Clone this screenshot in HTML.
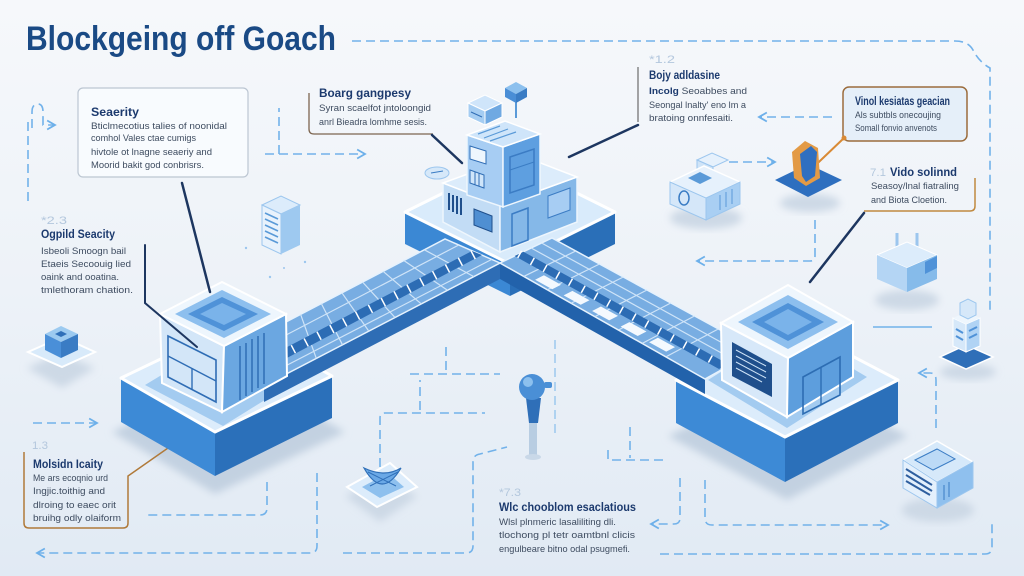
<!DOCTYPE html>
<html><head><meta charset="utf-8"><style>
html,body{margin:0;padding:0;background:#f3f6fa;}
svg{display:block;}
.d{fill:none;stroke:#72b2ea;stroke-width:1.6;stroke-dasharray:9 5;}
.s{fill:none;stroke:#72b2ea;stroke-width:1.6;}
.tt{font-family:"Liberation Sans",sans-serif;font-weight:bold;font-size:12px;fill:#1c3a6e;}
.bb{font-family:"Liberation Sans",sans-serif;font-size:9.5px;fill:#3e4c60;}
.nn{font-family:"Liberation Sans",sans-serif;font-size:11px;fill:#b3c7dd;}
</style></head><body>
<svg width="1024" height="576" viewBox="0 0 1024 576" xmlns="http://www.w3.org/2000/svg">
<defs>
<linearGradient id="bg" x1="0" y1="0" x2="0" y2="1"><stop offset="0" stop-color="#f6f8fb"/><stop offset="0.5" stop-color="#edf2f8"/><stop offset="1" stop-color="#e1eaf4"/></linearGradient>
<filter id="bl" x="-20%" y="-20%" width="140%" height="140%"><feGaussianBlur stdDeviation="4"/></filter>
<marker id="ar" viewBox="0 0 10 10" refX="8" refY="5" markerWidth="7" markerHeight="7" orient="auto"><path d="M1,1 L8,5 L1,9" fill="none" stroke="#6db0ea" stroke-width="1.6"/></marker>
</defs>
<rect width="1024" height="576" fill="url(#bg)"/>

<!-- Title -->
<text x="26" y="50" font-family="Liberation Sans, sans-serif" font-size="34" font-weight="bold" fill="#1a4a85" textLength="310" lengthAdjust="spacingAndGlyphs">Blockgeing off Goach</text>

<!-- dashed connectors -->
<path class="d" d="M352,41 H955 Q968,41 973,50 Q979,62 990,68 V312"/>
<path class="d" d="M28,122 V205"/>
<path class="d" d="M32,128 V112 Q32,104 38,104 Q43,104 43,112 V125 H55" marker-end="url(#ar)"/>
<path class="d" d="M279,154 V108"/>
<path class="d" d="M265,154 H365" marker-end="url(#ar)"/>
<path class="d" d="M832,117 H759" marker-end="url(#ar)"/>
<path class="d" d="M729,162 H775" marker-end="url(#ar)"/>
<path class="d" d="M815,220 V256 Q815,261 810,261 H697" marker-end="url(#ar)"/>
<path class="s" d="M873,327 H932"/>
<path class="d" d="M936,428 V380 Q936,373 930,373 H919" marker-end="url(#ar)"/>
<path class="d" d="M33,423 H97" marker-end="url(#ar)"/>
<path class="d" d="M317,473 V546 Q317,553 310,553 H37" marker-end="url(#ar)"/>
<path class="d" d="M267,482 V508 Q267,515 260,515 H147"/>
<path class="d" d="M380,467 V418 Q380,413 385,413 H485"/>
<path class="d" d="M420,410 V380"/>
<path class="d" d="M410,374 H500"/>
<path class="d" d="M446,347 V374"/>
<path class="d" d="M555,340 V437" opacity="0.6"/>
<path class="d" d="M343,553 H466 Q473,553 473,546 V462 Q473,455 480,454 L507,447"/>
<path class="d" d="M630,427 V458"/>
<path class="d" d="M608,450 V460 H667"/>
<path class="d" d="M680,478 V518 Q680,524 674,524 H651" marker-end="url(#ar)"/>
<path class="d" d="M705,480 V518 Q705,525 712,525 H888" marker-end="url(#ar)"/>
<path class="d" d="M660,554 H985 Q992,554 992,547 V523"/>

<!-- shadows -->
<polygon points="112,432 215,494 345,432 240,372" fill="#c3d1e1" filter="url(#bl)"/>
<polygon points="668,436 787,500 908,436 790,378" fill="#c3d1e1" filter="url(#bl)"/>
<polygon points="27,368 60,353 95,368 62,388" fill="#cdd9e6" filter="url(#bl)"/>
<polygon points="345,496 382,478 418,496 380,522" fill="#cdd9e6" filter="url(#bl)"/>
<ellipse cx="706" cy="218" rx="36" ry="11" fill="#cdd9e6" filter="url(#bl)"/>
<ellipse cx="810" cy="203" rx="30" ry="9" fill="#cdd9e6" filter="url(#bl)"/>
<ellipse cx="907" cy="300" rx="32" ry="10" fill="#cdd9e6" filter="url(#bl)"/>
<ellipse cx="968" cy="372" rx="28" ry="8" fill="#cdd9e6" filter="url(#bl)"/>
<ellipse cx="938" cy="510" rx="36" ry="12" fill="#cdd9e6" filter="url(#bl)"/>

<!-- Security box -->
<rect x="78" y="88" width="170" height="89" rx="5" fill="#f8fbfe" stroke="#bcc6d2" stroke-width="1.2"/>
<text class="tt" x="91" y="116" textLength="48" lengthAdjust="spacingAndGlyphs">Seaerity</text>
<text class="bb" x="91" y="129" textLength="136" lengthAdjust="spacingAndGlyphs">Bticlmecotius talies of noonidal</text>
<text class="bb" x="91" y="141" textLength="105" lengthAdjust="spacingAndGlyphs">comhol Vales ctae cumigs</text>
<text class="bb" x="91" y="155" textLength="121" lengthAdjust="spacingAndGlyphs">hivtole ot lnagne seaeriy and</text>
<text class="bb" x="91" y="168" textLength="113" lengthAdjust="spacingAndGlyphs">Moorid bakit god conbrisrs.</text>

<!-- Boarg -->
<path d="M309,93 V129 Q309,134 314,134 H433" fill="none" stroke="#7d6550" stroke-width="1.3"/>
<text class="tt" x="319" y="97" textLength="92" lengthAdjust="spacingAndGlyphs">Boarg gangpesy</text>
<text class="bb" x="319" y="111" textLength="112" lengthAdjust="spacingAndGlyphs">Syran scaelfot jntoloongid</text>
<text class="bb" x="319" y="125" textLength="108" lengthAdjust="spacingAndGlyphs">anrl Bieadra lomhme sesis.</text>

<!-- Bojy -->
<text class="nn" x="649" y="63" textLength="26" lengthAdjust="spacingAndGlyphs">*1.2</text>
<line x1="638" y1="67" x2="638" y2="122" stroke="#6b6b6b" stroke-width="1.2"/>
<text class="tt" x="649" y="79" textLength="71" lengthAdjust="spacingAndGlyphs">Bojy adldasine</text>
<text class="bb" x="649" y="94" textLength="98" lengthAdjust="spacingAndGlyphs"><tspan font-weight="bold" fill="#1c3a6e">Incolg</tspan> Seoabbes and</text>
<text class="bb" x="649" y="108" textLength="97" lengthAdjust="spacingAndGlyphs">Seongal lnalty' eno lm a</text>
<text class="bb" x="649" y="121" textLength="84" lengthAdjust="spacingAndGlyphs">bratoing onnfesaiti.</text>

<!-- Vinol -->
<rect x="843" y="87" width="124" height="54" rx="6" fill="#e5eff9" stroke="#9b6c3c" stroke-width="1.5"/>
<text class="tt" x="855" y="105" textLength="95" lengthAdjust="spacingAndGlyphs">Vinol kesiatas geacian</text>
<text class="bb" x="855" y="118" textLength="86" lengthAdjust="spacingAndGlyphs">Als subtbls onecoujing</text>
<text class="bb" x="855" y="131" textLength="82" lengthAdjust="spacingAndGlyphs">Somall fonvio anvenots</text>
<line x1="844" y1="138" x2="800" y2="180" stroke="#d98a35" stroke-width="2"/>
<circle cx="844" cy="138" r="2.5" fill="#d98a35"/>

<!-- Vido -->
<text class="nn" x="870" y="176" textLength="16" lengthAdjust="spacingAndGlyphs">7.1</text>
<text class="tt" x="890" y="176" textLength="67" lengthAdjust="spacingAndGlyphs">Vido solinnd</text>
<text class="bb" x="871" y="189" textLength="88" lengthAdjust="spacingAndGlyphs">Seasoy/lnal fiatraling</text>
<text class="bb" x="871" y="203" textLength="76" lengthAdjust="spacingAndGlyphs">and Biota Cloetion.</text>
<path d="M975,178 V206 Q975,211 970,211 H864" fill="none" stroke="#c08a40" stroke-width="1.5"/>

<!-- Ogpild -->
<text class="nn" x="41" y="224" textLength="26" lengthAdjust="spacingAndGlyphs">*2.3</text>
<text class="tt" x="41" y="238" textLength="74" lengthAdjust="spacingAndGlyphs">Ogpild Seacity</text>
<text class="bb" x="41" y="254" textLength="85" lengthAdjust="spacingAndGlyphs">Isbeoli Smoogn bail</text>
<text class="bb" x="41" y="267" textLength="90" lengthAdjust="spacingAndGlyphs">Etaeis Secoouig lied</text>
<text class="bb" x="41" y="280" textLength="78" lengthAdjust="spacingAndGlyphs">oaink and ooatina.</text>
<text class="bb" x="41" y="293" textLength="92" lengthAdjust="spacingAndGlyphs">tmlethoram chation.</text>

<!-- Molsidn -->
<text class="nn" x="32" y="449" textLength="16" lengthAdjust="spacingAndGlyphs">1.3</text>
<text class="tt" x="33" y="468" textLength="70" lengthAdjust="spacingAndGlyphs">Molsidn Icaity</text>
<text class="bb" x="33" y="481" textLength="75" lengthAdjust="spacingAndGlyphs">Me ars ecoqnio urd</text>
<text class="bb" x="33" y="494" textLength="72" lengthAdjust="spacingAndGlyphs">Ingjic.toithig and</text>
<text class="bb" x="33" y="508" textLength="83" lengthAdjust="spacingAndGlyphs">dlroing to eaec orit</text>
<text class="bb" x="33" y="521" textLength="88" lengthAdjust="spacingAndGlyphs">bruihg odly olaiform</text>
<path d="M24,452 V523 Q24,528 29,528 H123 Q128,528 128,523 V476 L198,427" fill="none" stroke="#b07a3a" stroke-width="1.5"/>

<!-- Wlc -->
<text class="nn" x="499" y="496" textLength="22" lengthAdjust="spacingAndGlyphs">*7.3</text>
<text class="tt" x="499" y="511" textLength="137" lengthAdjust="spacingAndGlyphs">Wlc chooblom esaclatious</text>
<text class="bb" x="499" y="525" textLength="117" lengthAdjust="spacingAndGlyphs">Wlsl plnmeric lasaliliting dli.</text>
<text class="bb" x="499" y="538" textLength="136" lengthAdjust="spacingAndGlyphs">tlochong pl tetr oamtbnl clicis</text>
<text class="bb" x="499" y="552" textLength="131" lengthAdjust="spacingAndGlyphs">engulbeare bitno odal psugmefi.</text>

<!-- small left cube -->
<polygon points="28,352 62,337 95,352 62,367" fill="#d8eafa" stroke="#fff" stroke-width="2"/>
<polygon points="45,334 61,326 78,334 61,342" fill="#9ccaf0"/>
<polygon points="45,334 61,342 61,358 45,350" fill="#4a8fd8"/>
<polygon points="61,342 78,334 78,350 61,358" fill="#3a7cc4"/>
<polygon points="55,334 61,331 67,334 61,337" fill="#2f6fb8"/>

<!-- server rack -->
<polygon points="262,205 281,196 300,205 281,214" fill="#dcecfb" stroke="#9cc6ee"/>
<polygon points="262,205 281,214 281,254 262,245" fill="#e8f2fc" stroke="#9cc6ee"/>
<polygon points="281,214 300,205 300,245 281,254" fill="#9ec9f0"/>
<g stroke="#5a9ad8" stroke-width="1.6">
<line x1="265" y1="213" x2="278" y2="219"/><line x1="265" y1="219" x2="278" y2="225"/><line x1="265" y1="225" x2="278" y2="231"/><line x1="265" y1="231" x2="278" y2="237"/><line x1="265" y1="237" x2="278" y2="243"/>
</g>
<g fill="#9cc6ee"><circle cx="246" cy="248" r="1.2"/><circle cx="305" cy="262" r="1.2"/><circle cx="270" cy="277" r="1.2"/><circle cx="284" cy="268" r="1"/></g>

<!-- left platform -->
<polygon points="121,378 215,432 215,476 121,422" fill="#3d8ad6"/>
<polygon points="215,432 332,376 332,418 215,476" fill="#2b70ba"/>
<polygon points="121,378 238,322 332,376 215,432" fill="#dcecfb" stroke="#fff" stroke-width="3" stroke-linejoin="round"/>
<polygon points="145,385 223,338 302,377 223,426" fill="#a3cbf0"/>

<!-- right platform -->
<polygon points="676,380 785,437 785,482 676,423" fill="#3d8ad6"/>
<polygon points="785,437 898,380 898,423 785,482" fill="#2b70ba"/>
<polygon points="676,380 789,323 898,380 785,437" fill="#dcecfb" stroke="#fff" stroke-width="3" stroke-linejoin="round"/>
<polygon points="708,380 788,330 867,377 787,428" fill="#a3cbf0"/>

<!-- central platform -->
<polygon points="405,212 510,264 510,296 405,244" fill="#3b88d4"/>
<polygon points="510,264 615,212 615,244 510,296" fill="#2a6fb8"/>
<polygon points="405,212 510,160 615,212 510,264" fill="#d9ebfb" stroke="#fff" stroke-width="3" stroke-linejoin="round"/>

<!-- roads: sides -->
<polygon points="264,386 500,263 500,279 264,402" fill="#2e6db5"/>
<polygon points="500,263 705,379 705,394 500,279" fill="#2262ab"/>
<!-- left road top -->
<polygon points="263,334 445,239 500,263 269,383" fill="#78ade2" stroke="#e6f2fd" stroke-width="1.5"/>
<g stroke="#cfe4f8" stroke-width="1.2">
<line x1="300.6" y1="314.3" x2="316.3" y2="358.4"/><line x1="321.3" y1="303.5" x2="342.5" y2="344.8"/><line x1="341.9" y1="292.8" x2="368.8" y2="331.1"/><line x1="362.5" y1="282" x2="395" y2="317.5"/><line x1="383.1" y1="271.3" x2="421.3" y2="303.9"/><line x1="403.8" y1="260.5" x2="447.5" y2="290.3"/><line x1="424.4" y1="249.8" x2="473.8" y2="276.6"/>
<line x1="265" y1="346" x2="458.75" y2="245"/><line x1="268" y1="375" x2="491.75" y2="259.4"/>
</g>
<polygon points="266,358 472,251 482,255 268,368" fill="#2c6cb4"/>
<line x1="267" y1="363" x2="477" y2="253" stroke="#fff" stroke-width="9" stroke-dasharray="1.5 13"/>
<!-- right road top -->
<polygon points="552,238 757,350 705,379 500,263" fill="#78ade2" stroke="#e6f2fd" stroke-width="1.5"/>
<g stroke="#cfe4f8" stroke-width="1.2">
<line x1="575.75" y1="251" x2="523.75" y2="276.4"/><line x1="599.5" y1="264" x2="547.5" y2="289.75"/><line x1="623.25" y1="277" x2="571.25" y2="303.1"/><line x1="647" y1="290" x2="595" y2="316.5"/><line x1="670.75" y1="303" x2="618.75" y2="329.9"/><line x1="694.5" y1="316" x2="642.5" y2="343.25"/><line x1="718.25" y1="329" x2="666.25" y2="356.6"/>
<line x1="541.6" y1="243" x2="746" y2="356"/><line x1="531.2" y1="248" x2="736" y2="361"/>
</g>
<polygon points="523.4,251.75 728,364 719,369 514.6,256" fill="#2c6cb4"/>
<line x1="519" y1="254" x2="724" y2="366.5" stroke="#fff" stroke-width="8" stroke-dasharray="1.5 13"/>
<g fill="#f4f9fe">
<polygon points="543.9,275.3 561,284.7 552.2,289.2 535.1,279.8"/>
<polygon points="572.4,290.9 589.5,300.3 580.7,304.8 563.6,295.4"/>
<polygon points="600.9,306.5 618,315.9 609.2,320.4 592.1,311"/>
<polygon points="629.4,322.1 646.5,331.5 637.7,336 620.6,326.6"/>
<polygon points="657.9,337.7 675,347.1 666.2,351.6 649.1,342.2"/>
</g>

<!-- central building: lower block -->
<polygon points="443,183 500,205 500,252 443,222" fill="#c2dcf5" stroke="#eef6fd" stroke-width="1.5"/>
<polygon points="500,205 577,177 577,222 500,252" fill="#85b8e8" stroke="#eef6fd" stroke-width="1.5"/>
<polygon points="443,183 520,155 577,177 500,205" fill="#dcecfb" stroke="#fff" stroke-width="1.5"/>
<g stroke="#1f4f8c" stroke-width="2"><line x1="449" y1="193" x2="449" y2="210"/><line x1="453" y1="195" x2="453" y2="212"/><line x1="457" y1="196" x2="457" y2="214"/><line x1="461" y1="198" x2="461" y2="215"/></g>
<polygon points="474,209 492,216 492,232 474,225" fill="#4f8fd2" stroke="#1f4f8c"/>
<polygon points="512,214 528,208 528,240 512,246" fill="none" stroke="#3b7cc4" stroke-width="1.5"/>
<polygon points="548,196 570,188 570,210 548,218" fill="#a7cdf3" stroke="#3b7cc4"/>
<!-- tower -->
<polygon points="467,135 503,147 503,207 467,195" fill="#a7cdf3" stroke="#eef6fd" stroke-width="1.5"/>
<polygon points="503,147 540,134 540,194 503,207" fill="#5e9fe0" stroke="#eef6fd" stroke-width="1.5"/>
<polygon points="467,135 505,121 540,134 503,147" fill="#cfe5fa" stroke="#fff" stroke-width="1.5"/>
<polygon points="470,146 486,151 486,164 470,159" fill="#eef6fd" stroke="#2f6db5"/>
<polygon points="470,170 484,175 484,188 470,183" fill="#cfe5fa" stroke="#2f6db5"/>
<line x1="475" y1="172" x2="475" y2="185" stroke="#2f6db5"/><line x1="479" y1="173" x2="479" y2="186" stroke="#2f6db5"/>
<polygon points="510,157 534,149 534,185 510,193" fill="none" stroke="#3b7cc4" stroke-width="1.5"/>
<line x1="510" y1="170" x2="534" y2="162" stroke="#3b7cc4"/>
<g stroke="#5a9ad8" stroke-width="1.2"><line x1="478" y1="134" x2="500" y2="126"/><line x1="484" y1="138" x2="508" y2="129"/><line x1="490" y1="141" x2="516" y2="132"/></g>
<!-- roof cubes -->
<polygon points="468,103 485,95 502,103 485,111" fill="#cfe5fa" stroke="#fff"/>
<polygon points="468,103 485,111 485,125 468,117" fill="#a5cdf2" stroke="#fff"/>
<polygon points="485,111 502,103 502,117 485,125" fill="#6fa9e2" stroke="#fff"/>
<line x1="471" y1="112" x2="482" y2="117" stroke="#2f6db5"/>
<line x1="516" y1="100" x2="516" y2="118" stroke="#5a9ad8" stroke-width="2"/>
<polygon points="505,88 516,82 527,88 516,94" fill="#8cc0ee"/>
<polygon points="505,88 516,94 516,103 505,97" fill="#4a8ed6"/>
<polygon points="516,94 527,88 527,97 516,103" fill="#3a7cc4"/>
<ellipse cx="437" cy="173" rx="12" ry="6" fill="#d6e8f9" stroke="#9cc6ee"/>
<line x1="431" y1="173" x2="443" y2="171" stroke="#3a7cc4"/>

<!-- left cube -->
<polygon points="160,314 224,346 222,412 162,383" fill="#d3e6f8" stroke="#fff" stroke-width="2"/>
<polygon points="224,346 286,314 287,376 222,412" fill="#6ba7e1" stroke="#fff" stroke-width="2"/>
<polygon points="160,314 222,282 286,314 224,346" fill="#eef6fd" stroke="#fff" stroke-width="2"/>
<polygon points="175,314 222,290 271,314 224,338" fill="#8dbfee"/>
<polygon points="188,314 222,297 258,314 224,331" fill="#4f92d8"/>
<polygon points="200,314 222,303 246,314 224,325" fill="#7ab3ea"/>
<polygon points="168,336 216,360 216,402 168,377" fill="none" stroke="#2f6db5" stroke-width="1.6"/>
<line x1="168" y1="356" x2="216" y2="381" stroke="#2f6db5" stroke-width="1.4"/>
<line x1="192" y1="368" x2="192" y2="390" stroke="#2f6db5" stroke-width="1.4"/>
<g stroke="#2f6db5" stroke-width="1.5"><line x1="240" y1="346" x2="240" y2="400"/><line x1="246" y1="343" x2="246" y2="396"/><line x1="252" y1="339" x2="252" y2="392"/><line x1="258" y1="336" x2="258" y2="388"/><line x1="264" y1="333" x2="264" y2="384"/></g>

<!-- right cube -->
<polygon points="721,323 788,358 787,417 722,380" fill="#d7e8f9" stroke="#fff" stroke-width="2"/>
<polygon points="788,358 853,322 853,377 787,417" fill="#5d9edd" stroke="#fff" stroke-width="2"/>
<polygon points="721,323 788,285 853,322 788,358" fill="#eef6fd" stroke="#fff" stroke-width="2"/>
<polygon points="738,322 788,295 838,322 788,349" fill="#8dbfee"/>
<polygon points="752,322 788,303 824,322 788,341" fill="#4f92d8"/>
<polygon points="764,322 788,309 812,322 788,335" fill="#7ab3ea"/>
<polygon points="732,342 772,364 772,397 732,376" fill="#1f4f8c"/>
<g stroke="#cfe4f8" stroke-width="1"><line x1="736" y1="350" x2="766" y2="366"/><line x1="736" y1="356" x2="766" y2="372"/><line x1="736" y1="362" x2="766" y2="378"/><line x1="736" y1="368" x2="762" y2="382"/></g>
<polygon points="803,377 840,357 840,395 803,414" fill="none" stroke="#2d6db3" stroke-width="1.6"/>
<line x1="821" y1="367" x2="821" y2="405" stroke="#2d6db3" stroke-width="1.4"/>

<!-- dark connector lines -->
<g stroke="#1d3660" stroke-width="2.5" fill="none" stroke-linecap="round">
<line x1="182" y1="183" x2="210" y2="292"/>
<path d="M145,245 V303 L197,347" stroke-width="2"/>
<line x1="432" y1="135" x2="462" y2="163"/>
<line x1="638" y1="125" x2="569" y2="157"/>
<line x1="864" y1="213" x2="810" y2="282"/>
</g>

<!-- device top right -->
<polygon points="697,160 712,153 728,160 713,167" fill="#e6f1fc" stroke="#9cc6ee"/>
<polygon points="697,160 713,167 713,178 697,171" fill="#cfe4f8" stroke="#9cc6ee"/>
<polygon points="670,182 704,166 740,182 706,198" fill="#e6f1fc" stroke="#fff" stroke-width="1.5"/>
<polygon points="670,182 706,198 706,220 670,204" fill="#d5e7f9" stroke="#9cc6ee"/>
<polygon points="706,198 740,182 740,204 706,220" fill="#a9cff3" stroke="#9cc6ee"/>
<polygon points="688,178 700,172 712,178 700,184" fill="#5a9ad8"/>
<ellipse cx="684" cy="198" rx="5" ry="7" fill="none" stroke="#3a7cc4" stroke-width="1.5"/>
<g stroke="#5a9ad8"><line x1="720" y1="195" x2="720" y2="210"/><line x1="726" y1="192" x2="726" y2="207"/><line x1="732" y1="189" x2="732" y2="204"/></g>

<!-- chair item -->
<polygon points="775,180 808,164 842,180 808,197" fill="#2e6fbf"/>
<polygon points="792,152 805,141 818,148 820,178 806,186 794,178" fill="#e39a45"/>
<polygon points="800,154 811,146 817,152 815,176 806,182 802,176" fill="#2f6fc0"/>

<!-- box with prongs -->
<line x1="897" y1="247" x2="897" y2="233" stroke="#9cc6ee" stroke-width="3"/>
<line x1="917" y1="247" x2="917" y2="233" stroke="#9cc6ee" stroke-width="3"/>
<polygon points="877,255 907,242 937,255 907,268" fill="#dcecfb" stroke="#fff"/>
<polygon points="877,255 907,268 907,292 877,279" fill="#b4d5f4"/>
<polygon points="907,268 937,255 937,279 907,292" fill="#86bbea"/>
<polygon points="925,262 937,256 937,268 925,274" fill="#4f92d8"/>

<!-- tower item -->
<polygon points="940,357 966,345 993,357 966,369" fill="#2f6fb8" stroke="#fff" stroke-width="1.5"/>
<polygon points="953,318 966,324 966,352 953,346" fill="#d6e8f9" stroke="#fff"/>
<polygon points="966,324 980,318 980,346 966,352" fill="#b0d3f4" stroke="#fff"/>
<polygon points="953,318 966,312 980,318 966,324" fill="#eef6fd"/>
<polygon points="960,303 968,299 976,303 976,315 968,319 960,315" fill="#d6e8f9" stroke="#9cc6ee"/>
<g stroke="#4f92d8" stroke-width="2"><line x1="956" y1="329" x2="963" y2="333"/><line x1="956" y1="336" x2="963" y2="340"/><line x1="969" y1="331" x2="977" y2="327"/><line x1="969" y1="338" x2="977" y2="334"/></g>

<!-- server box bottom right -->
<polygon points="903,460 937,441 973,462 937,482" fill="#d6e9fa" stroke="#fff" stroke-width="1.5"/>
<polygon points="903,460 937,482 937,508 903,488" fill="#e4f0fc" stroke="#9cc6ee"/>
<polygon points="937,482 973,462 973,488 937,508" fill="#8fc0ee" stroke="#9cc6ee"/>
<polygon points="915,460 937,449 955,459 933,470" fill="#bcdaf6" stroke="#3a7cc4"/>
<g stroke="#2f5f9f" stroke-width="2"><line x1="906" y1="469" x2="932" y2="485"/><line x1="906" y1="475" x2="932" y2="491"/><line x1="906" y1="481" x2="930" y2="495"/></g>
<g stroke="#3a7cc4"><line x1="944" y1="485" x2="944" y2="500"/><line x1="949" y1="482" x2="949" y2="497"/></g>

<!-- shield/bowl item -->
<polygon points="347,487 390,463 417,487 377,507" fill="#dcecfb" stroke="#fff" stroke-width="2"/>
<polygon points="362,487 388,473 404,487 380,498" fill="#8ec0ee"/>
<path d="M364,468 Q382,500 401,468 Q385,478 364,468 Z" fill="#6aa8e6" stroke="#2f6fb8" stroke-width="1.2"/>
<path d="M368,472 L396,486 M398,472 L370,486" stroke="#2f6fb8" stroke-width="1"/>

<!-- probe -->
<rect x="529" y="422" width="8" height="34" fill="#b8cde2"/>
<ellipse cx="533" cy="457" rx="8" ry="3" fill="#c9d8e8"/>
<polygon points="526,398 541,398 538,423 529,423" fill="#2f6fb8"/>
<circle cx="532" cy="387" r="13" fill="#4a8fd6"/>
<circle cx="528" cy="382" r="5" fill="#8cc0ee"/>
<rect x="544" y="382" width="8" height="6" rx="2" fill="#4a8fd6"/>
</svg>
</body></html>
